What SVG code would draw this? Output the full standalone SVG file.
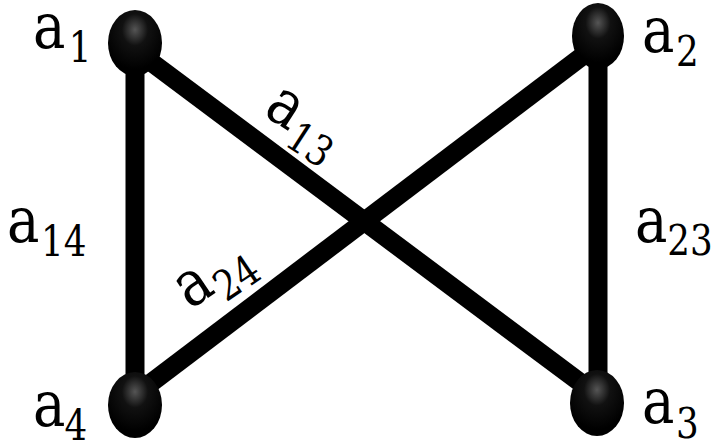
<svg xmlns="http://www.w3.org/2000/svg" width="712" height="445" viewBox="0 0 712 445">
<defs>
<radialGradient id="g" cx="0.5" cy="0.3" r="0.6">
<stop offset="0" stop-color="#555"/>
<stop offset="0.4" stop-color="#111"/>
<stop offset="1" stop-color="#000"/>
</radialGradient>
<style>
.e{stroke:#000;stroke-width:19;fill:none}
.n{fill:url(#g)}
.m{font-size:64px}
.s{font-size:42px}
</style>
</defs>
<g id="edges">
<line class="e" x1="135" y1="45" x2="135" y2="402"/>
<line class="e" x1="598" y1="40" x2="598" y2="402"/>
<line class="e" x1="135" y1="50" x2="597" y2="395"/>
<line class="e" x1="597" y1="45" x2="135" y2="395"/>
</g>
<g id="n1"><ellipse class="n" cx="135" cy="43" rx="27" ry="33"/></g>
<g id="n2"><ellipse class="n" cx="598" cy="36" rx="26" ry="33"/></g>
<g id="n3"><ellipse class="n" cx="597" cy="403" rx="27" ry="33"/></g>
<g id="n4"><ellipse class="n" cx="135" cy="405" rx="27" ry="33"/></g>
<g id="labels" font-family="DejaVu Serif, Liberation Serif, serif" fill="#000">
<g transform="translate(33,48) scale(0.85,1)"><text class="m">a</text><text x="42" y="14" class="s">1</text></g>
<g transform="translate(642,52) scale(0.85,1)"><text class="m">a</text><text x="40" y="14" class="s">2</text></g>
<g transform="translate(642,423) scale(0.85,1)"><text class="m">a</text><text x="40" y="15" class="s">3</text></g>
<g transform="translate(33,426) scale(0.85,1)"><text class="m">a</text><text x="37" y="14" class="s">4</text></g>
<g transform="translate(7,242) scale(0.85,1)"><text class="m">a</text><text x="40" y="14" class="s">14</text></g>
<g transform="translate(635,242) scale(0.85,1)"><text class="m">a</text><text x="38" y="13" class="s">23</text></g>
<g transform="translate(262,114) rotate(33) scale(0.85,1)"><text class="m">a</text><text x="40" y="14" class="s">13</text></g>
<g transform="translate(190,310) rotate(-34) scale(0.85,1)"><text class="m">a</text><text x="40" y="14" class="s">24</text></g>
</g>
</svg>
